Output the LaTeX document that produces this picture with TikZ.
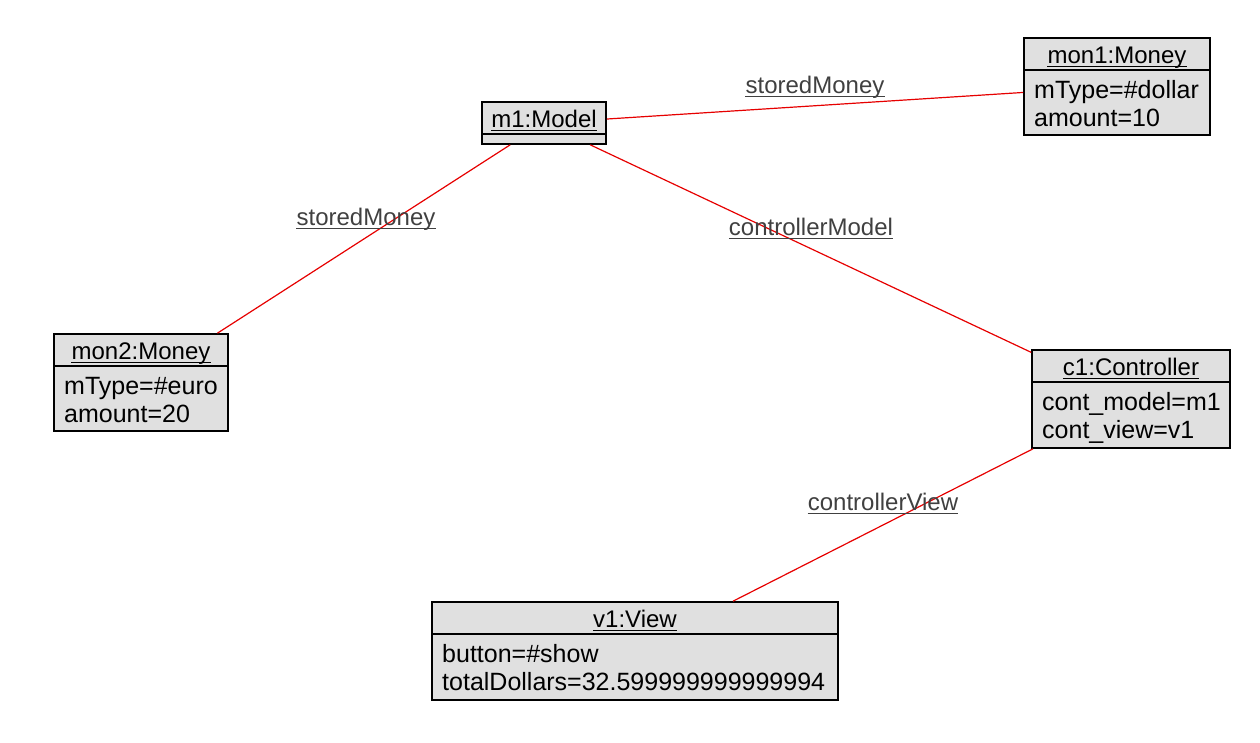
\documentclass[tikz,border=0pt]{standalone}
\usepackage{fontspec}
\setmainfont{Liberation Sans}
\definecolor{boxgray}{RGB}{224,224,224}
\definecolor{labgray}{RGB}{64,64,64}
\definecolor{assocred}{RGB}{230,0,0}
\tikzset{
  objbox/.style={draw=black, line width=1.6pt, fill=boxgray, rectangle, inner sep=0pt},
  sepline/.style={draw=black, line width=1.4pt},
  titletext/.style={anchor=base, inner sep=0pt, text=black},
  bodytext/.style={anchor=base west, inner sep=0pt, text=black, font=\fontsize{25}{29}\selectfont},
  ulblack/.style={draw=black, line width=1pt},
  ulgray/.style={draw=labgray, line width=1pt},
  labtext/.style={anchor=base, inner sep=0pt, text=labgray},
  assoc/.style={draw=assocred, line width=1.2pt}
}
\newcommand\umlobj[9]{%
  \node[objbox, minimum width={#4-#2}, minimum height={#5-#3}] (#1) at ({(#2+#4)/2},{(#3+#5)/2}) {};
  \draw[sepline] (#2,#6) -- (#4,#6);
  \node[titletext] (#1-t) at ({(#2+#4)/2},{#6-7}) {#7};
  \draw[ulblack] ([yshift=-3pt]#1-t.base west) -- ([yshift=-3pt]#1-t.base east);
  \node[bodytext] (#1-a) at ({#2+10},{#6+28}) {#8};
  \node[bodytext] (#1-b) at ({#2+10},{#6+56}) {#9};
}
\newcommand\assoclabel[4]{%
  \node[labtext] (#1) at (#2,#3) {#4};
  \draw[ulgray] ([yshift=-3pt]#1.base west) -- ([yshift=-3pt]#1.base east);
}
\begin{document}
\begin{tikzpicture}[x=1pt,y=-1pt,font=\fontsize{24}{29}\selectfont]
\useasboundingbox (0,0) rectangle (1260,742);
% m1:Model
\node[objbox, minimum width=124pt, minimum height=42pt] (m1) at (544,123) {};
\draw[sepline] (482,134) -- (606,134);
\node[titletext] (m1-t) at (544,127) {m1:Model};
\draw[ulblack] ([yshift=-3pt]m1-t.base west) -- ([yshift=-3pt]m1-t.base east);
% other objects
\umlobj{mon1}{1024}{38}{1210}{135}{70}{mon1:Money}{mType=\#dollar}{amount=10}
\umlobj{mon2}{54}{334}{228}{431}{366}{mon2:Money}{mType=\#euro}{amount=20}
\umlobj{c1}{1032}{350}{1230}{448}{382}{c1:Controller}{cont\_model=m1}{cont\_view=v1}
\umlobj{v1}{432}{602}{838}{700}{634}{v1:View}{button=\#show}{totalDollars=32.599999999999994}
% associations
\draw[assoc] (m1) -- (mon1);
\draw[assoc] (m1) -- (mon2);
\draw[assoc] (m1) -- (c1);
\draw[assoc] (c1) -- (v1);
% labels
\assoclabel{l1}{815}{93}{storedMoney}
\assoclabel{l2}{366}{225}{storedMoney}
\assoclabel{l3}{811}{235}{controllerModel}
\assoclabel{l4}{883}{510}{controllerView}
\end{tikzpicture}
\end{document}
